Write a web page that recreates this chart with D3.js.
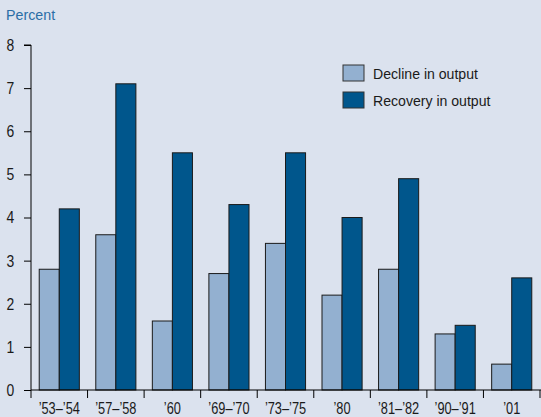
<!DOCTYPE html>
<html><head><meta charset="utf-8">
<script src="https://cdn.jsdelivr.net/npm/d3@7"></script>
<style>
html,body{margin:0;padding:0;background:#dbe2ee;}
svg{display:block;}
text{font-family:"Liberation Sans",Arial,sans-serif;}
</style></head><body>
<svg id="c" width="541" height="417"></svg>
<script>
const categories = ["’53–’54","’57–’58","’60","’69–’70","’73–’75","’80","’81–’82","’90–’91","’01"];
const decline = [2.8,3.6,1.6,2.7,3.4,2.2,2.8,1.3,0.6];
const recovery = [4.2,7.1,5.5,4.3,5.5,4.0,4.9,1.5,2.6];
const seriesNames = ["Decline in output","Recovery in output"];
const yTicks = [0,1,2,3,4,5,6,7,8];
const colors = ["#93b0d0","#00568c"];

const svg = d3.select("#c");
svg.append("rect").attr("width",541).attr("height",417).attr("fill","#dbe2ee");
const L=31,R=540,T=45,B=390;
const x = d3.scaleBand().domain(categories).range([L,R]).paddingInner(0).paddingOuter(0);
const y = d3.scaleLinear().domain([0,8]).range([B,T]);
const inner = d3.scaleBand().domain([0,1]).range([0,x.bandwidth()]).paddingInner(0).paddingOuter(0.41);

svg.append("g").attr("transform","translate(6,19.5)")
  .append("text").attr("transform","scale(0.92,1)").attr("fill","#2b6ea6").attr("font-size",15.5).text("Percent");

const data = categories.map((c,i)=>({c,v:[decline[i],recovery[i]]}));
const g = svg.append("g");
data.forEach(d=>{
  d.v.forEach((v,j)=>{
    g.append("rect").attr("x",x(d.c)+inner(j)).attr("y",y(v))
      .attr("width",inner.bandwidth()).attr("height",y(0)-y(v))
      .attr("fill",colors[j]).attr("stroke","#1a1a1a").attr("stroke-width",1);
  });
});

const ya = svg.append("g").attr("transform",`translate(${L},0)`)
  .call(d3.axisLeft(y).tickValues(yTicks).tickSize(7).tickPadding(13.5).tickFormat(d3.format("d")));
ya.select(".domain").attr("d",`M0,${T}H-7M0,${T}V${B}`);
ya.selectAll("text").attr("font-size",17).attr("fill","#1a1a1a").attr("transform","scale(0.82,1)");

const xa = svg.append("g").attr("transform",`translate(0,${B})`)
  .call(d3.axisBottom(x).tickSize(0).tickPadding(13));
xa.select(".domain").attr("d",`M${L},0H${R+1}`);
xa.selectAll("text").attr("font-size",16).attr("fill","#1a1a1a").attr("transform","scale(0.8,1)");
const bounds = categories.map(c=>x(c)).concat([R]);
xa.selectAll(".sep").data(bounds).enter().append("line").attr("class","sep")
  .attr("x1",d=>d).attr("x2",d=>d).attr("y1",0).attr("y2",8).attr("stroke","#000");
svg.selectAll(".domain, .tick line").attr("stroke","#000");

const lg = svg.append("g");
seriesNames.forEach((n,i)=>{
  lg.append("rect").attr("x",343).attr("y",65+i*27).attr("width",21).attr("height",16)
    .attr("fill",colors[i]).attr("stroke","#333");
  lg.append("g").attr("transform",`translate(373,${79+i*27})`)
    .append("text").attr("transform","scale(0.91,1)").attr("font-size",15.5).attr("fill","#1a1a1a").text(n);
});
</script></body></html>
